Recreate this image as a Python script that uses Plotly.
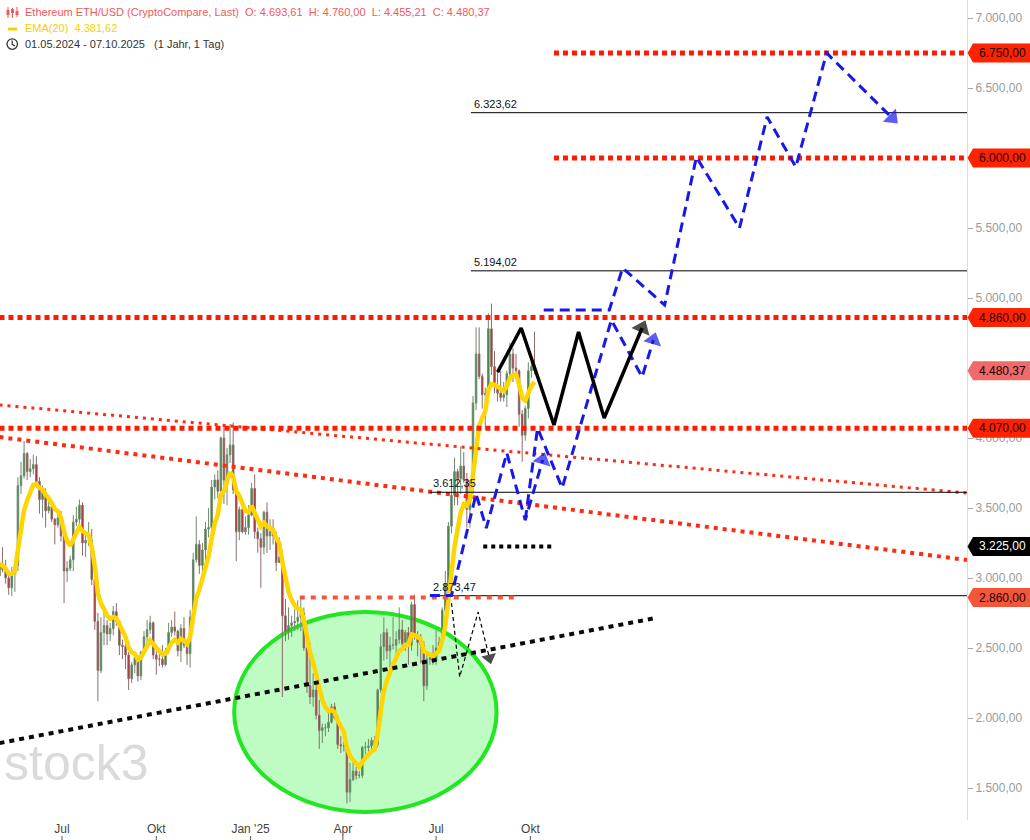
import numpy as np
import pandas as pd
import plotly.graph_objects as go

# ---------------- data (3-day candles) ----------------
first_open = 3015.0
closes = [3100, 3060, 3000, 2930, 3030, 3090, 3660, 3730, 3890, 3760,
          3780, 3810, 3690, 3560, 3610, 3480, 3510, 3420, 3380, 3430,
          3300, 3050, 3070, 3130, 3400, 3420, 3520, 3250, 3270, 3270,
          2990, 2690, 2340, 2610, 2660, 2600, 2640, 2760, 2690, 2520,
          2510, 2450, 2280, 2380, 2430, 2300, 2470, 2580, 2630, 2680,
          2450, 2420, 2420, 2380, 2480, 2610, 2650, 2620, 2480, 2640,
          2520, 2460, 2720, 3130, 3240, 3090, 3200, 3350, 3360, 3650,
          3700, 3620, 4000, 3700, 3880, 3950, 3630, 3330, 3490, 3330,
          3360, 3450, 3640, 3330, 3280, 3220, 3470, 3300, 3330, 3300,
          3110, 3150, 2730, 2620, 2660, 2680, 2690, 2720, 2750, 2500,
          2230, 2150, 2200, 2020, 1910, 1930, 1930, 1970, 2080, 2000,
          1810, 1800, 1800, 1470, 1560, 1620, 1590, 1590, 1790, 1790,
          1800, 1840, 1810, 2200, 2510, 2610, 2480, 2520, 2520, 2560,
          2630, 2530, 2610, 2520, 2810, 2580, 2540, 2520, 2230, 2420,
          2430, 2410, 2500, 2540, 2770, 2960, 3370, 3590, 3760, 3710,
          3800, 3700, 3490, 3680, 4250, 4600, 4440, 4310, 4320, 4780,
          4510, 4370, 4320, 4290, 4310, 4460, 4600, 4500, 4480, 4170,
          4020, 4210, 4480, 4510, 4480.37]
highs = [3130, 3220, 3130, 3050, 3080, 3120, 3720, 3830, 3980, 3900,
         3850, 3880, 3870, 3720, 3660, 3640, 3590, 3530, 3430, 3480,
         3480, 3320, 3120, 3160, 3450, 3510, 3560, 3540, 3330, 3400,
         3350, 3000, 2750, 2720, 2790, 2700, 2680, 2800, 2820, 2700,
         2560, 2530, 2470, 2400, 2470, 2450, 2480, 2620, 2700, 2730,
         2690, 2480, 2470, 2520, 2500, 2680, 2700, 2760, 2630, 2670,
         2720, 2560, 2770, 3180, 3440, 3270, 3250, 3400, 3500, 3700,
         3740, 3770, 4010, 4090, 3930, 4100, 4110, 3660, 3510, 3540,
         3440, 3520, 3680, 3740, 3360, 3320, 3480, 3540, 3420, 3420,
         3330, 3290, 3200, 2850, 2790, 2730, 2780, 2840, 2850, 2790,
         2500, 2540, 2320, 2250, 2130, 1960, 1960, 2060, 2100, 2110,
         2020, 1870, 1830, 1820, 1680, 1690, 1650, 1620, 1800, 1830,
         1850, 1860, 1870, 2210, 2600, 2720, 2640, 2580, 2720, 2620,
         2790, 2700, 2630, 2650, 2830, 2880, 2620, 2600, 2550, 2460,
         2470, 2520, 2630, 2580, 2790, 3050, 3400, 3650, 3860, 3780,
         3940, 3900, 3750, 3700, 4300, 4790, 4790, 4460, 4360, 4890,
         4960, 4620, 4480, 4480, 4400, 4480, 4680, 4640, 4600, 4490,
         4200, 4230, 4540, 4590, 4760]
lows = [2820, 3040, 2960, 2880, 2870, 2900, 3050, 3600, 3710, 3700,
        3720, 3740, 3650, 3460, 3430, 3360, 3460, 3400, 3240, 3360,
        3260, 2820, 2970, 3050, 3050, 3370, 3380, 3160, 3150, 3230,
        2950, 2630, 2120, 2320, 2520, 2520, 2550, 2590, 2660, 2450,
        2420, 2350, 2200, 2250, 2320, 2260, 2270, 2460, 2540, 2600,
        2420, 2310, 2370, 2360, 2370, 2460, 2580, 2590, 2440, 2400,
        2500, 2380, 2360, 2700, 3110, 3030, 3040, 3060, 3290, 3270,
        3560, 3570, 3620, 3530, 3520, 3820, 3600, 3120, 3270, 3320,
        3310, 3310, 3440, 3280, 3180, 2930, 3170, 3180, 3200, 3240,
        3050, 3110, 2150, 2550, 2560, 2580, 2620, 2630, 2620, 2480,
        2180, 2100, 2080, 1990, 1780, 1820, 1870, 1900, 1960, 1990,
        1780, 1750, 1760, 1390, 1400, 1550, 1560, 1570, 1570, 1740,
        1760, 1750, 1780, 1790, 2180, 2410, 2420, 2360, 2490, 2450,
        2530, 2480, 2480, 2380, 2480, 2560, 2440, 2390, 2120, 2200,
        2380, 2380, 2380, 2480, 2520, 2750, 2920, 3320, 3520, 3520,
        3600, 3680, 3360, 3360, 3600, 4200, 4420, 4210, 4060, 4280,
        4450, 4320, 4260, 4260, 4260, 4220, 4420, 4400, 4440, 4080,
        3830, 3980, 4140, 4430, 4455]
dates = pd.date_range("2024-05-01", periods=len(closes), freq="3D")
opens = [first_open] + closes[:-1]

# x-axis ticks
tick_dates = ["2024-07-01", "2024-10-01", "2025-01-01", "2025-04-01", "2025-07-01", "2025-10-01"]
tick_labels = ["Jul", "Okt", "Jan '25", "Apr", "Jul", "Okt"]
# 4.500 and 6.000 are hidden behind price boxes in the reference
y_ticks = [1500, 2000, 2500, 3000, 3500, 4000, 5000, 5500, 6500, 7000]

# drawings (dates, prices)
x_start, x_end = "2024-05-01 12:00", "2026-12-01"
red_levels = [6750, 6000, 4860, 4070]
red_level_starts = ["2025-10-24", "2025-10-24", "2024-05-01", "2024-05-01"]
black_levels = [6323.62, 5194.02, 3612.35, 2873.47]
black_level_starts = ["2025-08-04", "2025-08-04", "2025-06-25", "2025-06-25"]
support_dates, support_vals = ["2025-02-18", "2025-09-16"], [2860, 2860]
short_dates, short_vals = ["2025-08-16", "2025-10-23"], [3225, 3225]
slope_thin_dates, slope_thin_vals = ["2024-05-01", "2026-12-01"], [4236, 3607]
slope_thick_dates, slope_thick_vals = ["2024-05-01", "2026-12-01"], [4007, 3129]
trend_dates, trend_vals = ["2024-05-01", "2026-01-31"], [1821, 2714]
ellipse_dates, ellipse_vals = ["2024-12-16", "2025-08-29"], [1329, 2757]
blue1_dates = ["2025-06-25", "2025-07-16", "2025-08-09", "2025-08-19", "2025-09-08", "2025-09-26", "2025-10-13"]
blue1_vals = [2875, 2875, 3600, 3357, 3893, 3414, 3843]
blue2_dates = ["2025-09-26", "2025-10-08", "2025-11-01", "2025-12-19", "2026-01-18", "2026-01-29"]
blue2_vals = [3414, 4071, 3643, 4843, 4436, 4700]
blue3_dates = ["2025-10-14", "2025-12-17", "2025-12-30", "2026-02-09", "2026-03-12", "2026-04-23",
               "2026-05-20", "2026-06-17", "2026-07-17", "2026-09-19"]
blue3_vals = [4914, 4914, 5214, 4950, 6007, 5500, 6293, 5936, 6750, 6286]
zig_dates = ["2025-08-30", "2025-09-22", "2025-10-24", "2025-11-17", "2025-12-12", "2026-01-18"]
zig_vals = [4471, 4786, 4093, 4757, 4143, 4786]
thin_dates = ["2025-07-16", "2025-07-24", "2025-08-11", "2025-08-22"]
thin_vals = [2821, 2293, 2757, 2429]

axis_labels = [(6750, "#ff2200", "#1a0000"), (6000, "#ff2200", "#1a0000"), (4860, "#ff2200", "#1a0000"),
               (4480.37, "#f06a6a", "#1a0000"), (4070, "#ff2200", "#1a0000"),
               (3225, "#000000", "#ffffff"), (2860, "#f4563a", "#1a0000")]

# ---------------- figure ----------------
W, H = 1030, 840
ML, MR, MT, MB = 0, 63, 0, 20
PW, PH = W - ML - MR, H - MT - MB
Y0, Y1 = 1271.4, 7128.6
FONT = "Liberation Sans, Arial, sans-serif"

def de(v):
    s = f"{v:,.2f}"
    return s.replace(",", "#").replace(".", ",").replace("#", ".")

def px(x):
    return x / PW

def py(y):
    return (PH - y) / PH

def vy(v):
    return (v - Y0) / (Y1 - Y0)

t0 = pd.Timestamp(x_start)
t1 = pd.Timestamp(x_end)
def dx(d):
    return (pd.Timestamp(d) - t0) / (t1 - t0)

fig = go.Figure()

shapes = []
# ellipse
shapes.append(dict(type="circle", xref="x", yref="y", x0=ellipse_dates[0], x1=ellipse_dates[1],
                   y0=ellipse_vals[0], y1=ellipse_vals[1], fillcolor="rgb(190,252,196)",
                   line=dict(color="#22e622", width=4), layer="below"))

fig.add_trace(go.Candlestick(x=dates, open=opens, high=highs, low=lows, close=closes,
                             increasing=dict(line=dict(color="#6f8a6f", width=1), fillcolor="#2b8a2b"),
                             decreasing=dict(line=dict(color="#8f6a6a", width=1), fillcolor="#c42020"),
                             whiskerwidth=0, showlegend=False, hoverinfo="skip"))

alpha = 1 - (1 - 2 / 21) ** 3
ema = pd.Series(closes).ewm(alpha=alpha, adjust=False).mean()
fig.add_trace(go.Scatter(x=dates, y=ema, mode="lines", line=dict(color="#ffd500", width=4.5),
                         showlegend=False, hoverinfo="skip"))

def line(xs, ys, color, width, dash="solid"):
    fig.add_trace(go.Scatter(x=xs, y=ys, mode="lines", line=dict(color=color, width=width, dash=dash),
                             showlegend=False, hoverinfo="skip"))

def arrow(xs, ys, color, size):
    fig.add_trace(go.Scatter(x=xs[-2:], y=ys[-2:], mode="markers",
                             marker=dict(symbol="triangle-up", size=[0, size], color=color, angleref="previous",
                                         line=dict(width=0)),
                             showlegend=False, hoverinfo="skip"))

# sloped red lines
line(slope_thin_dates, slope_thin_vals, "#ff2a10", 3, "3px,5px")
line(slope_thick_dates, slope_thick_vals, "#ff2a10", 4, "4px,5px")
# black levels
for lv, st in zip(black_levels, black_level_starts):
    line([st, x_end], [lv, lv], "#000000", 1)
# red levels
for lv, st in zip(red_levels, red_level_starts):
    line([st, x_end], [lv, lv], "#ff1a00", 5, "5px,4px")
line(support_dates, support_vals, "#f4563a", 4, "5px,6px")
line(short_dates, short_vals, "#000000", 4, "4px,4px")
line(trend_dates, trend_vals, "#0a0a0a", 4, "5px,5px")
# blue scenario paths
for xs, ys in [(blue1_dates, blue1_vals), (blue2_dates, blue2_vals), (blue3_dates, blue3_vals)]:
    line(xs, ys, "#1818e8", 3, "10px,6px")
    arrow(xs, ys, "#1818e8", 16)
# black zigzag
line(zig_dates, zig_vals, "#000000", 3.5)
arrow(zig_dates, zig_vals, "#000000", 17)
# thin dashed black path
line(thin_dates, thin_vals, "#000000", 1.2, "4px,3px")
arrow(thin_dates, thin_vals, "#000000", 13)

annotations = []
# labels on black levels
for lv, st in zip(black_levels, black_level_starts):
    annotations.append(dict(x=st, y=lv, xref="x", yref="y", text=de(lv), showarrow=False,
                            xanchor="left", yanchor="bottom", xshift=1, yshift=1,
                            font=dict(family=FONT, size=11, color="#111")))

# right axis price boxes
bx = 1 + 6 / PW
hh = 9.5 / PH
for v, bg, fg in axis_labels:
    yy = vy(v)
    shapes.append(dict(type="path", xref="paper", yref="paper",
                       path=f"M {1 + 0.5 / PW},{yy} L {bx},{yy + hh} L {1 + 63 / PW},{yy + hh} "
                            f"L {1 + 63 / PW},{yy - hh} L {bx},{yy - hh} Z",
                       fillcolor=bg, line=dict(width=0), layer="above"))
    annotations.append(dict(x=1 + 10 / PW, y=yy, xref="paper", yref="paper", text=de(v), showarrow=False,
                            xanchor="left", yanchor="middle", font=dict(family=FONT, size=12, color=fg)))

# header
annotations.append(dict(x=px(23), y=py(12), xref="paper", yref="paper", xanchor="left", yanchor="middle",
                        showarrow=False,
                        text="Ethereum ETH/USD (CryptoCompare, Last)\u00a0 O: 4.693,61\u00a0 H: 4.760,00\u00a0 "
                             "L: 4.455,21\u00a0 C: 4.480,37",
                        font=dict(family=FONT, size=11, color="#f05a5a")))
annotations.append(dict(x=px(23), y=py(28), xref="paper", yref="paper", xanchor="left", yanchor="middle",
                        showarrow=False, text="EMA(20)\u00a0 4.381,62",
                        font=dict(family=FONT, size=11, color="#f5d000")))
annotations.append(dict(x=px(23), y=py(44), xref="paper", yref="paper", xanchor="left", yanchor="middle",
                        showarrow=False, text="01.05.2024 - 07.10.2025\u00a0\u00a0 (1 Jahr, 1 Tag)",
                        font=dict(family=FONT, size=11, color="#333")))
# header icons
for cx, top, bot, b0, b1 in [(8, 7, 18, 10, 15), (12.5, 8, 18, 9, 13), (17, 7, 17, 11, 15)]:
    shapes.append(dict(type="line", xref="paper", yref="paper", x0=px(cx), x1=px(cx), y0=py(top), y1=py(bot),
                       line=dict(color="#f05a5a", width=1)))
    shapes.append(dict(type="rect", xref="paper", yref="paper", x0=px(cx - 1.5), x1=px(cx + 1.5),
                       y0=py(b0), y1=py(b1), fillcolor="#f05a5a", line=dict(width=0)))
shapes.append(dict(type="line", xref="paper", yref="paper", x0=px(8), x1=px(17), y0=py(29), y1=py(29),
                   line=dict(color="#f5d000", width=3)))
shapes.append(dict(type="circle", xref="paper", yref="paper", x0=px(7), x1=px(17.5), y0=py(38.8), y1=py(49.3),
                   line=dict(color="#333", width=1.3)))
shapes.append(dict(type="path", xref="paper", yref="paper",
                   path=f"M {px(12.2)},{py(40.5)} L {px(12.2)},{py(44.3)} L {px(15)},{py(46)}",
                   line=dict(color="#333", width=1.2)))

# watermark
annotations.append(dict(x=px(2), y=py(793), xref="paper", yref="paper", xanchor="left", yanchor="bottom",
                        showarrow=False, text="stock3",
                        font=dict(family=FONT, size=50, color="rgba(205,205,205,0.75)")))

# x ticks marks below labels
for d in tick_dates:
    shapes.append(dict(type="line", xref="paper", yref="paper", x0=dx(d), x1=dx(d),
                       y0=-16 / PH, y1=-20 / PH, line=dict(color="#555", width=1)))

fig.update_layout(
    width=W, height=H, margin=dict(l=ML, r=MR, t=MT, b=MB),
    paper_bgcolor="white", plot_bgcolor="white",
    shapes=shapes, annotations=annotations, showlegend=False,
    font=dict(family=FONT),
    xaxis=dict(type="date", range=[x_start, x_end], rangeslider=dict(visible=False),
               tickvals=tick_dates, ticktext=tick_labels, ticks="", showgrid=False, zeroline=False,
               showline=False, tickfont=dict(size=12, color="#444"), fixedrange=True),
    yaxis=dict(side="right", range=[Y0, Y1], tickvals=y_ticks, ticktext=[de(v) for v in y_ticks],
               ticks="outside", ticklen=5, tickcolor="#aaa", showgrid=False, zeroline=False,
               showline=True, linecolor="#dddddd", linewidth=1,
               tickfont=dict(size=12, color="#9a9a9a"), fixedrange=True),
)

fig.write_html("out.html", config={"displayModeBar": False},
               post_script="document.body.style.margin='0';document.body.style.overflow='hidden';")
